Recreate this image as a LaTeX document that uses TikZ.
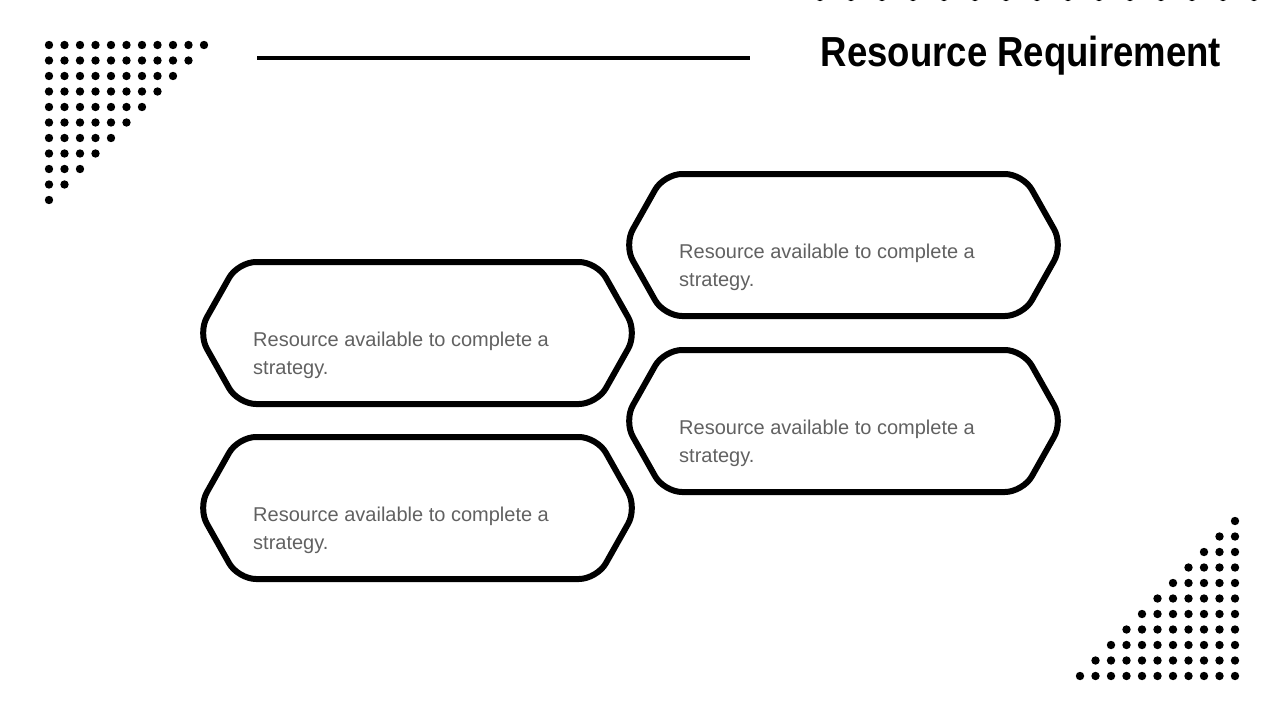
\documentclass[tikz,border=0pt]{standalone}
\usepackage{fontspec}
\setmainfont{Liberation Sans}
\usepackage{tikz}

\tikzset{
  hexbox/.style={line width=6pt, rounded corners=18pt},
  bodytext/.style={anchor=north west, text=black!62, font=\fontsize{20}{28}\selectfont, align=left, inner sep=0pt}
}

\begin{document}
\begin{tikzpicture}[x=1pt,y=-1pt]
	\useasboundingbox (0,0) rectangle (1280,720);

	% dot patterns
	\foreach \r in {0,...,10}
		\foreach \c in {0,...,\numexpr10-\r\relax}
			\fill (49+15.5*\c,45+15.5*\r) circle (4.2);
	\foreach \r in {0,...,10}
		\foreach \c in {0,...,\r}
			\fill (1235-15.5*\c,521+15.5*\r) circle (4.2);
	\foreach \x in {0,...,14}
		\fill (820+31*\x,-3) circle (4.2);

	% title and rule
	\draw[line width=4pt] (257,58) -- (750,58);
	\node[anchor=east, xscale=0.87, font=\bfseries\fontsize{42}{48}\selectfont] (title) at (1224,56) {Resource Requirement};

	% boxes
	\foreach \name/\x/\y in {a/203/262, b/203/437, c/629/174, d/629/350} {
		\draw[hexbox] (\x-5,\y+71) -- (\x+35,\y) -- (\x+394,\y) -- (\x+434,\y+71)
			-- (\x+394,\y+142) -- (\x+35,\y+142) -- cycle;
		\node[bodytext] (\name) at (\x+50,\y+70) {Resource available to complete a\\strategy.};
	}
\end{tikzpicture}
\end{document}
